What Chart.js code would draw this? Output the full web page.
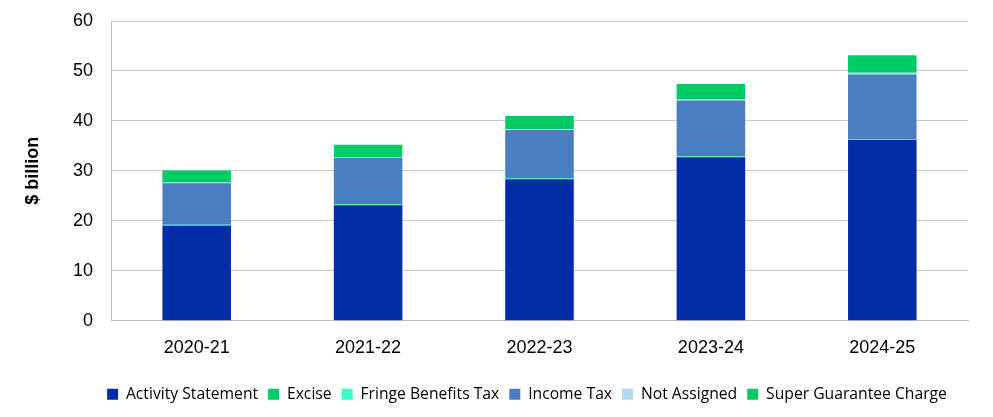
<!DOCTYPE html>
<html>
<head>
<meta charset="utf-8">
<script src="https://cdn.jsdelivr.net/npm/chart.js@4"></script>
<style>
  html, body { margin: 0; padding: 0; background: #fff; }
  #wrap { width: 993px; height: 417px; }
</style>
</head>
<body>
<div id="wrap"><canvas id="myChart" width="993" height="417"></canvas></div>
<script>
// years on the x axis
var years = ['2020-21', '2021-22', '2022-23', '2023-24', '2024-25'];

// $ billion
var activityStatement = [19.0, 23.1, 28.3, 32.7, 36.2];
var excise = [0.1, 0.1, 0.1, 0.1, 0.1];
var fringeBenefitsTax = [0.1, 0.1, 0.1, 0.1, 0.1];
var incomeTax = [8.3, 9.3, 9.7, 11.2, 12.9];
var notAssigned = [0.15, 0.15, 0.15, 0.2, 0.35];
var superGuarantee = [2.4, 2.5, 2.65, 3.1, 3.5];

var yTicks = [0, 10, 20, 30, 40, 50, 60];

var ctx = document.getElementById('myChart').getContext('2d');

function ds(label, data, color) {
    return {
        label: label,
        data: data,
        backgroundColor: color,
        borderWidth: 0
    };
}

// legend in the original sits a bit right of centre
var legendShift = {
    id: 'legendShift',
    afterLayout: function (c) {
        c.legend.left = 86;
    }
};

var chart = new Chart(ctx, {
    type: 'bar',
    data: {
        labels: years,
        datasets: [
            ds('Activity Statement', activityStatement, '#002DA6'),
            ds('Excise', excise, '#00CC66'),
            ds('Fringe Benefits Tax', fringeBenefitsTax, '#33FFCC'),
            ds('Income Tax', incomeTax, '#4A7EC0'),
            ds('Not Assigned', notAssigned, '#B4D8EE'),
            ds('Super Guarantee Charge', superGuarantee, '#00CC66')
        ]
    },
    plugins: [legendShift],
    options: {
        responsive: false,
        animation: false,
        barPercentage: 0.4,
        categoryPercentage: 1.0,
        layout: { padding: { top: 21, right: 25, left: 22, bottom: 5 } },
        plugins: {
            tooltip: { enabled: false },
            legend: {
                position: 'bottom',
                labels: {
                    boxWidth: 11,
                    boxHeight: 11,
                    padding: 10,
                    color: '#000',
                    font: { family: 'Open Sans, sans-serif', size: 15.7 }
                }
            }
        },
        scales: {
            x: {
                stacked: true,
                grid: { display: false, drawTicks: false },
                border: { display: true, color: '#C0C0C0' },
                ticks: {
                    color: '#000',
                    padding: 17,
                    font: { family: 'Liberation Sans, Arial, sans-serif', size: 18 }
                }
            },
            y: {
                stacked: true,
                min: 0,
                max: 60,
                afterBuildTicks: function (scale) {
                    scale.ticks = yTicks.map(function (v) { return { value: v }; });
                },
                afterFit: function (scale) {
                    scale.width = 89;
                    scale.paddingTop = 0;
                    scale.paddingBottom = 0;
                },
                grid: { color: '#C8C8C8', drawTicks: false },
                border: { display: true, color: '#C0C0C0' },
                title: {
                    display: true,
                    text: '$ billion',
                    color: '#000',
                    padding: { top: 0, bottom: 0 },
                    font: { family: 'Liberation Sans, Arial, sans-serif', size: 18, weight: 'bold' }
                },
                ticks: {
                    color: '#000',
                    padding: 18,
                    font: { family: 'Liberation Sans, Arial, sans-serif', size: 18 }
                }
            }
        }
    }
});
</script>
</body>
</html>
